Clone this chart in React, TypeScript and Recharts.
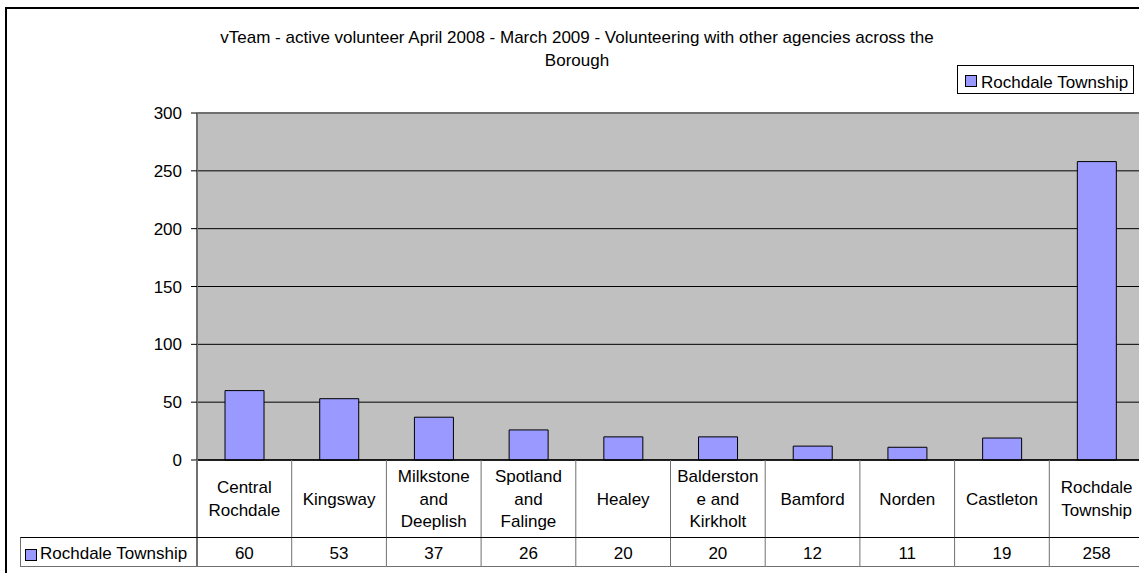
import React from 'react';
import { BarChart, Bar, XAxis, YAxis, CartesianGrid, Legend, ReferenceLine } from 'recharts';

const titleLines = [
  'vTeam - active volunteer April 2008 - March 2009 - Volunteering with other agencies across the',
  'Borough',
];
const categories = [
  'Central Rochdale',
  'Kingsway',
  'Milkstone and Deeplish',
  'Spotland and Falinge',
  'Healey',
  'Balderstone and Kirkholt',
  'Bamford',
  'Norden',
  'Castleton',
  'Rochdale Township',
];
const categoryLabelLines = [
  ['Central', 'Rochdale'],
  ['Kingsway'],
  ['Milkstone', 'and', 'Deeplish'],
  ['Spotland', 'and', 'Falinge'],
  ['Healey'],
  ['Balderston', 'e and', 'Kirkholt'],
  ['Bamford'],
  ['Norden'],
  ['Castleton'],
  ['Rochdale', 'Township'],
];
const seriesName = 'Rochdale Township';
const seriesValues = [60, 53, 37, 26, 20, 20, 12, 11, 19, 258];
const yTicks = [0, 50, 100, 150, 200, 250, 300];

const data = categories.map((c, i) => ({ category: c, value: seriesValues[i] }));

const FONT = '"Liberation Sans", Arial, Helvetica, sans-serif';
const FS = 17;
const CHART_W = 1150;
const CHART_H = 573;
const M_TOP = 113;
const M_RIGHT = 6;
const Y_W = 197;
const X_H = 113;
const PLOT_W = CHART_W - M_RIGHT - Y_W;
const BAND = PLOT_W / categories.length;
const BAR_FILL = '#9999FF';
const GREY = '#707070';

const TableTick = (props: any) => {
  const { x, y, payload, index } = props;
  const i = payload && typeof payload.index === 'number' ? payload.index : index;
  const half = BAND / 2;
  const left = x - half;
  const right = x + half;
  const lines = categoryLabelLines[i] || [String(payload?.value ?? '')];
  const n = lines.length;
  const rowSplit = y + 77.5;
  const bottom = y + 106.5;
  const textStyle = { fontFamily: FONT, fontSize: FS, fill: '#000' };
  return (
    <g>
      {i === 0 && (
        <g>
          <line x1={left} x2={left} y1={y} y2={bottom} stroke={GREY} strokeWidth={2} />
          <line x1={left - 177} x2={left} y1={rowSplit} y2={rowSplit} stroke="#000" strokeWidth={1} />
          <line x1={left - 177} x2={left} y1={bottom} y2={bottom} stroke={GREY} strokeWidth={1} />
          <line x1={left - 176.5} x2={left - 176.5} y1={rowSplit} y2={bottom} stroke={GREY} strokeWidth={1} />
          <rect x={left - 171.5} y={y + 89.5} width={11} height={11} fill={BAR_FILL} stroke="#000" strokeWidth={1} />
          <text x={left - 157} y={y + 99.3} textAnchor="start" style={textStyle}>
            {seriesName}
          </text>
        </g>
      )}
      <line x1={right} x2={right} y1={y} y2={bottom} stroke={GREY} strokeWidth={1} />
      <line x1={left} x2={right} y1={rowSplit} y2={rowSplit} stroke="#000" strokeWidth={1} />
      <line x1={left} x2={right} y1={bottom} y2={bottom} stroke={GREY} strokeWidth={1} />
      {lines.map((t: string, k: number) => (
        <text
          key={k}
          x={x}
          y={y + 44.7 + (k - (n - 1) / 2) * 22.7}
          textAnchor="middle"
          style={textStyle}
        >
          {t}
        </text>
      ))}
      <text x={x} y={y + 99.3} textAnchor="middle" style={textStyle}>
        {seriesValues[i]}
      </text>
    </g>
  );
};

const renderLegend = (props: any) => {
  const name = props?.payload?.[0]?.value ?? seriesName;
  return (
    <svg width={178} height={30} style={{ display: 'block' }}>
      <rect x={0.5} y={0.5} width={176} height={28} fill="#fff" stroke="#000" strokeWidth={1} />
      <rect x={8.5} y={10.5} width={11} height={11} fill={BAR_FILL} stroke="#000" strokeWidth={1} />
      <text x={24} y={22.7} style={{ fontFamily: FONT, fontSize: FS, fill: '#000' }}>
        {name}
      </text>
    </svg>
  );
};

export default function App() {
  return (
    <div
      style={{
        position: 'absolute',
        left: 0,
        top: 0,
        width: 1139,
        height: 573,
        overflow: 'hidden',
        background: '#fff',
        fontFamily: FONT,
      }}
    >
      <svg width={1139} height={573} style={{ position: 'absolute', left: 0, top: 0 }}>
        <rect x={6} y={8} width={1200} height={600} fill="#fff" stroke="#000" strokeWidth={2} />
        {titleLines.map((t, k) => (
          <text
            key={k}
            x={577}
            y={43.3 + k * 22.5}
            textAnchor="middle"
            style={{ fontFamily: FONT, fontSize: FS, fill: '#000' }}
          >
            {t}
          </text>
        ))}
      </svg>
      <div style={{ position: 'absolute', left: 0, top: 0 }}>
        <BarChart
          width={CHART_W}
          height={CHART_H}
          data={data}
          margin={{ top: M_TOP, right: M_RIGHT, bottom: 0, left: 0 }}
          barCategoryGap="29.6%"
        >
          <CartesianGrid
            vertical={false}
            horizontal={true}
            fill="#C0C0C0"
            fillOpacity={1}
            stroke="#000"
            strokeOpacity={1}
          />
          <XAxis
            dataKey="category"
            type="category"
            height={X_H}
            interval={0}
            tickLine={false}
            tickSize={0}
            tickMargin={0}
            axisLine={{ stroke: '#000', strokeWidth: 1.5 }}
            tick={<TableTick />}
          />
          <YAxis
            type="number"
            domain={[0, 300]}
            ticks={yTicks}
            width={Y_W}
            tickSize={6}
            tickMargin={9}
            axisLine={{ stroke: GREY, strokeWidth: 2 }}
            tickLine={{ stroke: '#000' }}
            tick={{ fontFamily: FONT, fontSize: FS, fill: '#000' }}
            interval={0}
          />
          <ReferenceLine y={300} stroke={GREY} strokeWidth={2} />
          <Legend
            layout="horizontal"
            verticalAlign="middle"
            align="center"
            content={renderLegend}
            wrapperStyle={{ position: 'absolute', left: 957, top: 65, width: 178, height: 30 }}
          />
          <Bar
            dataKey="value"
            name={seriesName}
            fill={BAR_FILL}
            stroke="#000"
            strokeWidth={1}
            isAnimationActive={false}
          />
        </BarChart>
      </div>
    </div>
  );
}
